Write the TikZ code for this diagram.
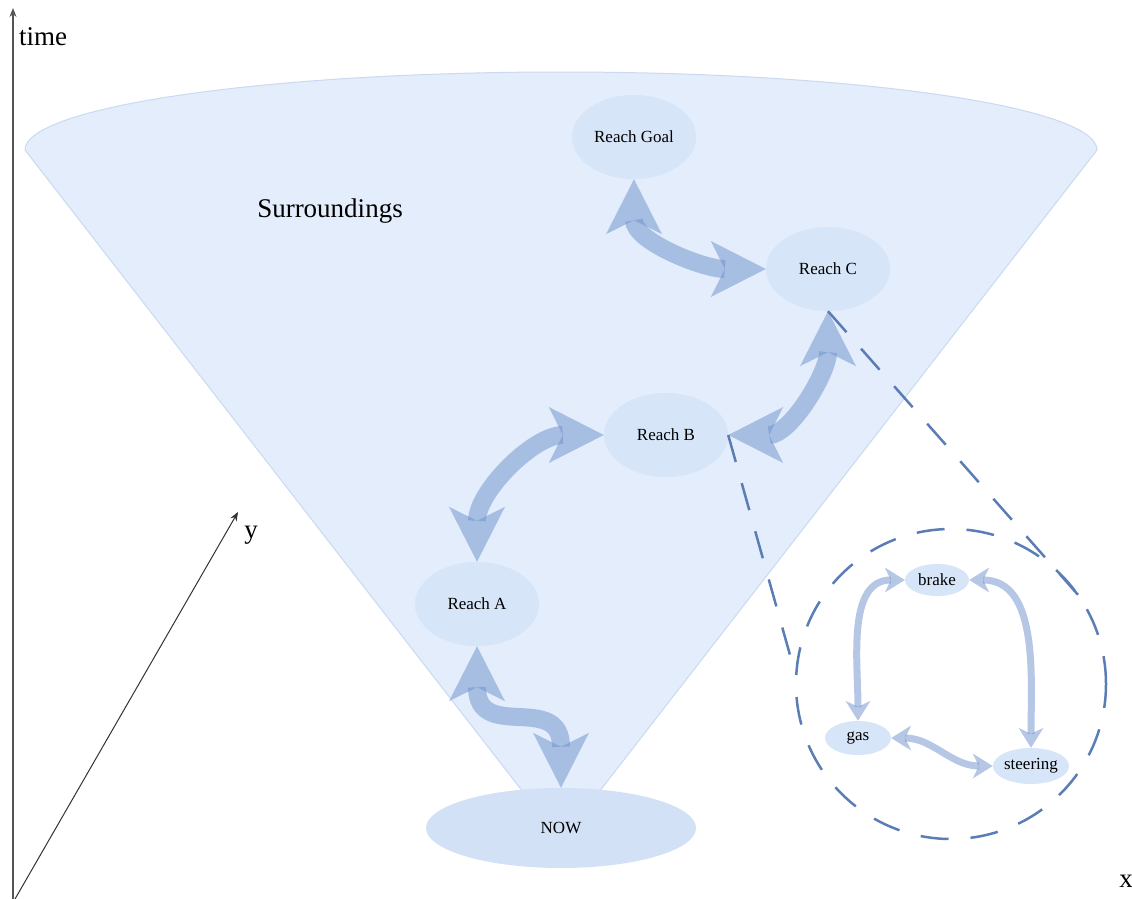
\documentclass[tikz,border=0pt]{standalone}
\usepackage{fontspec}
\setmainfont{Liberation Serif}
\usetikzlibrary{arrows.meta,shapes.geometric}

\definecolor{conefill}{HTML}{E3EDFB}
\definecolor{coneedge}{HTML}{C9DAF1}
\definecolor{bubble}{HTML}{D7E5F8}
\definecolor{flow}{HTML}{6D90CC}
\definecolor{zoomline}{HTML}{5B7DB5}
\definecolor{axisgray}{HTML}{555555}

\tikzset{
  bubble/.style={ellipse, fill=bubble, draw=none, inner sep=0pt, font=\fontsize{17}{20}\selectfont},
  goalnode/.style={bubble, minimum width=124pt, minimum height=84pt},
  partnode/.style={bubble, minimum width=66pt, minimum height=34pt},
  bighead/.tip={Stealth[length=55pt,width=56pt,inset=14pt,line width=0pt]},
  smallhead/.tip={Stealth[length=20pt,width=25pt,inset=6pt,line width=0pt]},
  bigflow/.style={line width=18pt, draw=flow, opacity=0.5, bighead-bighead},
  smallflow/.style={line width=7pt, draw=flow, opacity=0.5, smallhead-smallhead},
  zoomdash/.style={draw=zoomline, line width=2.5pt, dash pattern=on 28pt off 22pt},
  axis/.style={line width=1.2pt, draw=axisgray, -{Stealth[length=9pt,width=7pt]}},
  biglabel/.style={font=\fontsize{27}{30}\selectfont, inner sep=0pt}
}

\begin{document}
\begin{tikzpicture}[x=1pt,y=1pt]
\useasboundingbox (0,0) rectangle (1132,-899);

% coordinate axes
\coordinate (origin) at (13,-899);
\coordinate (timetip) at (13,-8);
\coordinate (ytip) at (238,-512);
\draw[axis] (origin) -- (timetip);
\draw[axis, line width=1pt, draw=black!80] ([xshift=2pt]origin) -- (ytip);
\node[biglabel, anchor=west] (timelbl) at (19,-37) {time};
\node[biglabel] (ylbl) at (251,-535) {y};
\node[biglabel] (xlbl) at (1126,-881) {x};

% the cone of reachable surroundings
\fill[conefill, draw=coneedge, line width=1pt]
  (25,-150) arc[start angle=180, end angle=0, x radius=536, y radius=78]
  -- (561,-841) -- cycle;
\node[biglabel] (surr) at (330,-211) {Surroundings};

% milestones
\node[goalnode] (goal) at (634,-137) {Reach Goal};
\node[goalnode] (rc) at (828,-269) {Reach C};
\node[goalnode] (rb) at (666,-435) {Reach B};
\node[goalnode] (ra) at (477,-604) {Reach A};
\node[bubble, fill=bubble!95!flow, minimum width=270pt, minimum height=80pt] (now) at (561,-828) {NOW};

% connections between milestones
\draw[bigflow] (goal.south) to[out=-90, in=180] (rc.west);
\draw[bigflow] (rc.south) to[out=-90, in=0] (rb.east);
\draw[bigflow] (rb.west) to[out=180, in=90] (ra.north);
\draw[bigflow] (ra.south) to[out=-90, in=90, looseness=1.5] (now.north);

% detail view of the controls
\coordinate (zr) at (1087,-605);
\coordinate (zl) at (790,-655);
\draw[zoomdash] (rc.south) -- (zr);
\draw[zoomdash] (rb.east) -- (zl);
\node[circle, zoomdash, minimum size=310pt, inner sep=0pt] (detail) at (951,-684) {};

\node[partnode, minimum width=64pt, minimum height=32pt] (brake) at (937,-580) {brake};
\node[partnode] (gas) at (858,-738) {gas};
\node[partnode, minimum width=70pt, minimum height=36pt] (steer) at (1031,-766) {steering};

\draw[smallflow] (brake.west) to[out=180, in=90] (gas.north);
\draw[smallflow] (brake.east) to[out=0, in=90] (steer.north);
\draw[smallflow] (gas.east) to[out=0, in=180] (steer.west);
\end{tikzpicture}
\end{document}
